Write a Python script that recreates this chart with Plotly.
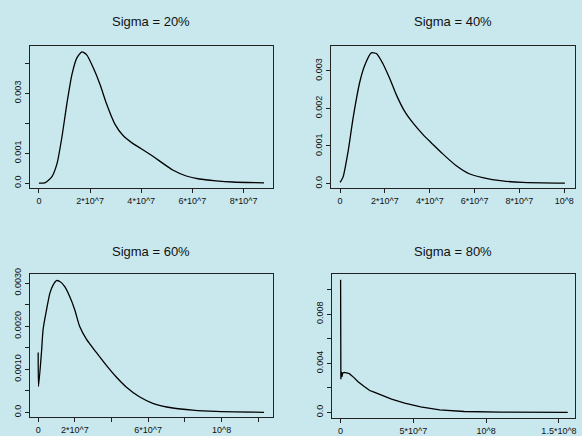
import plotly.graph_objects as go

# ---- data (x in raw units, y = density) ----
titles = ["Sigma = 20%", "Sigma = 40%", "Sigma = 60%", "Sigma = 80%"]

x20 = [0, 0.25e7, 0.51e7, 0.71e7, 0.9e7, 1.09e7, 1.29e7, 1.48e7, 1.68e7, 1.87e7, 2.13e7, 2.39e7,
       2.65e7, 2.97e7, 3.29e7, 3.68e7, 4.0e7, 4.4e7, 4.85e7, 5.23e7, 5.76e7, 6.27e7, 6.92e7, 7.57e7, 8.8e7]
y20 = [0, 0.00002, 0.00022, 0.00066, 0.00154, 0.00263, 0.00362, 0.00417, 0.00438, 0.00428, 0.00384, 0.00329,
       0.00263, 0.00197, 0.00159, 0.00132, 0.00115, 0.00093, 0.00066, 0.00044, 0.00024, 0.00014, 0.00008, 0.00004, 0.00001]

x40 = [0, 0.13e7, 0.36e7, 0.58e7, 0.88e7, 1.1e7, 1.39e7, 1.62e7, 1.91e7, 2.21e7, 2.51e7, 2.88e7,
       3.24e7, 3.69e7, 4.13e7, 4.58e7, 5.17e7, 5.76e7, 6.36e7, 7.24e7, 8.13e7, 10.03e7]
y40 = [0.00003, 0.00017, 0.00087, 0.00175, 0.00271, 0.00315, 0.00348, 0.00346, 0.00319, 0.0028, 0.00236, 0.00192,
       0.00162, 0.00131, 0.00105, 0.00079, 0.00048, 0.00026, 0.00016, 0.00007, 0.00003, 0.00001]

x60 = [0, 0.02e7, 0.18e7, 0.27e7, 0.46e7, 0.64e7, 0.82e7, 1.0e7, 1.18e7, 1.45e7, 1.72e7, 1.99e7, 2.26e7,
       2.63e7, 3.17e7, 3.72e7, 4.26e7, 4.8e7, 5.52e7, 6.25e7, 7.34e7, 8.42e7, 9.7e7, 12.32e7]
y60 = [0.00139, 0.0006, 0.00139, 0.00193, 0.00239, 0.00277, 0.00296, 0.00306, 0.00304, 0.00292, 0.00269, 0.00239, 0.002,
       0.0017, 0.00139, 0.00109, 0.00082, 0.00059, 0.00036, 0.00021, 0.0001, 0.00005, 0.00002, 0.0]

x80 = [0, 0.02e7, 0.05e7, 0.09e7, 0.14e7, 0.27e7, 0.6e7, 0.9e7, 1.2e7, 1.6e7, 2.0e7, 2.3e7, 2.8e7,
       3.5e7, 4.4e7, 5.5e7, 6.8e7, 8.5e7, 11.0e7, 15.6e7]
y80 = [0.0108, 0.0027, 0.0033, 0.0029, 0.0032, 0.00325, 0.00315, 0.00285, 0.0025, 0.00212, 0.00178, 0.00164, 0.00138,
       0.00108, 0.00075, 0.00044, 0.0002, 0.00007, 0.00002, 0.0]

# tick positions / labels
xt20 = [0, 2e7, 4e7, 6e7, 8e7];           xl20 = ["0", "2*10^7", "4*10^7", "6*10^7", "8*10^7"]
yt20 = [0, 0.001, 0.002, 0.003, 0.004];   yl20 = ["0.0", "0.001", "", "0.003", ""]
xt40 = [0, 2e7, 4e7, 6e7, 8e7, 1e8];      xl40 = ["0", "2*10^7", "4*10^7", "6*10^7", "8*10^7", "10^8"]
yt40 = [0, 0.001, 0.002, 0.003];          yl40 = ["0.0", "0.001", "0.002", "0.003"]
xt60 = [0, 2e7, 4e7, 6e7, 8e7, 1e8, 1.2e8]; xl60 = ["0", "2*10^7", "", "6*10^7", "", "10^8", ""]
yt60 = [0, 0.0005, 0.001, 0.0015, 0.002, 0.0025, 0.003]
yl60 = ["0.0", "", "0.0010", "", "0.0020", "", "0.0030"]
xt80 = [0, 5e7, 1e8, 1.5e8];              xl80 = ["0", "5*10^7", "10^8", "1.5*10^8"]
yt80 = [0, 0.002, 0.004, 0.006, 0.008, 0.010]
yl80 = ["0.0", "", "0.004", "", "0.008", ""]

W, H = 582, 436
BG = "#c8e8ee"
# panel pixel boxes (left, right, top, bottom)
boxes = [(30, 274, 41, 185), (332, 577, 41, 185), (30, 274, 272, 417), (333, 577, 272, 418)]
xranges = [[-0.352e7, 9.152e7], [-0.413e7, 10.48e7], [-0.451e7, 12.81e7], [-0.6e7, 16.1e7]]
yranges = [[-0.000175, 0.00456], [-0.000131, 0.00365], [-0.000115, 0.003207], [-0.00048, 0.01125]]
series = [(x20, y20, "spline"), (x40, y40, "spline"), (x60, y60, "spline"), (x80, y80, "linear")]
ticks = [(xt20, xl20, yt20, yl20), (xt40, xl40, yt40, yl40), (xt60, xl60, yt60, yl60), (xt80, xl80, yt80, yl80)]

fig = go.Figure()
layout = dict(width=W, height=H, margin=dict(l=0, r=0, t=0, b=0),
              paper_bgcolor=BG, plot_bgcolor=BG, showlegend=False,
              font=dict(family="Liberation Sans, Arial, sans-serif", color="#111"))
annotations = []
for i in range(4):
    n = "" if i == 0 else str(i + 1)
    xs, ys, shape = series[i]
    fig.add_trace(go.Scatter(x=xs, y=ys, mode="lines", xaxis="x" + n, yaxis="y" + n,
                             line=dict(color="#000", width=1.3, shape=shape, smoothing=0.6 if shape == "spline" else None)))
    l, r, t, b = boxes[i]
    xt, xl, yt, yl = ticks[i]
    common = dict(showline=True, mirror=True, linecolor="#222", linewidth=1, ticks="outside",
                  ticklen=4, tickcolor="#222", showgrid=False, zeroline=False,
                  tickfont=dict(size=9, color="#111"))
    layout["xaxis" + n] = dict(domain=[l / W, r / W], range=xranges[i], anchor="y" + n,
                               tickvals=xt, ticktext=xl, **common)
    layout["yaxis" + n] = dict(domain=[1 - b / H, 1 - t / H], range=yranges[i], anchor="x" + n,
                               tickvals=yt, ticktext=yl, tickangle=-90, **common)
    ty = 16 if i < 2 else 249
    annotations.append(dict(text=titles[i], x=(l + r) / 2 / W, y=1 - ty / H, xref="paper", yref="paper",
                            xanchor="center", yanchor="middle", showarrow=False,
                            font=dict(size=13, color="#111")))
layout["annotations"] = annotations
fig.update_layout(**layout)
fig.write_html("out.html", config={"displayModeBar": False},
               post_script="document.body.style.margin='0px';document.body.style.background='" + BG + "';")
